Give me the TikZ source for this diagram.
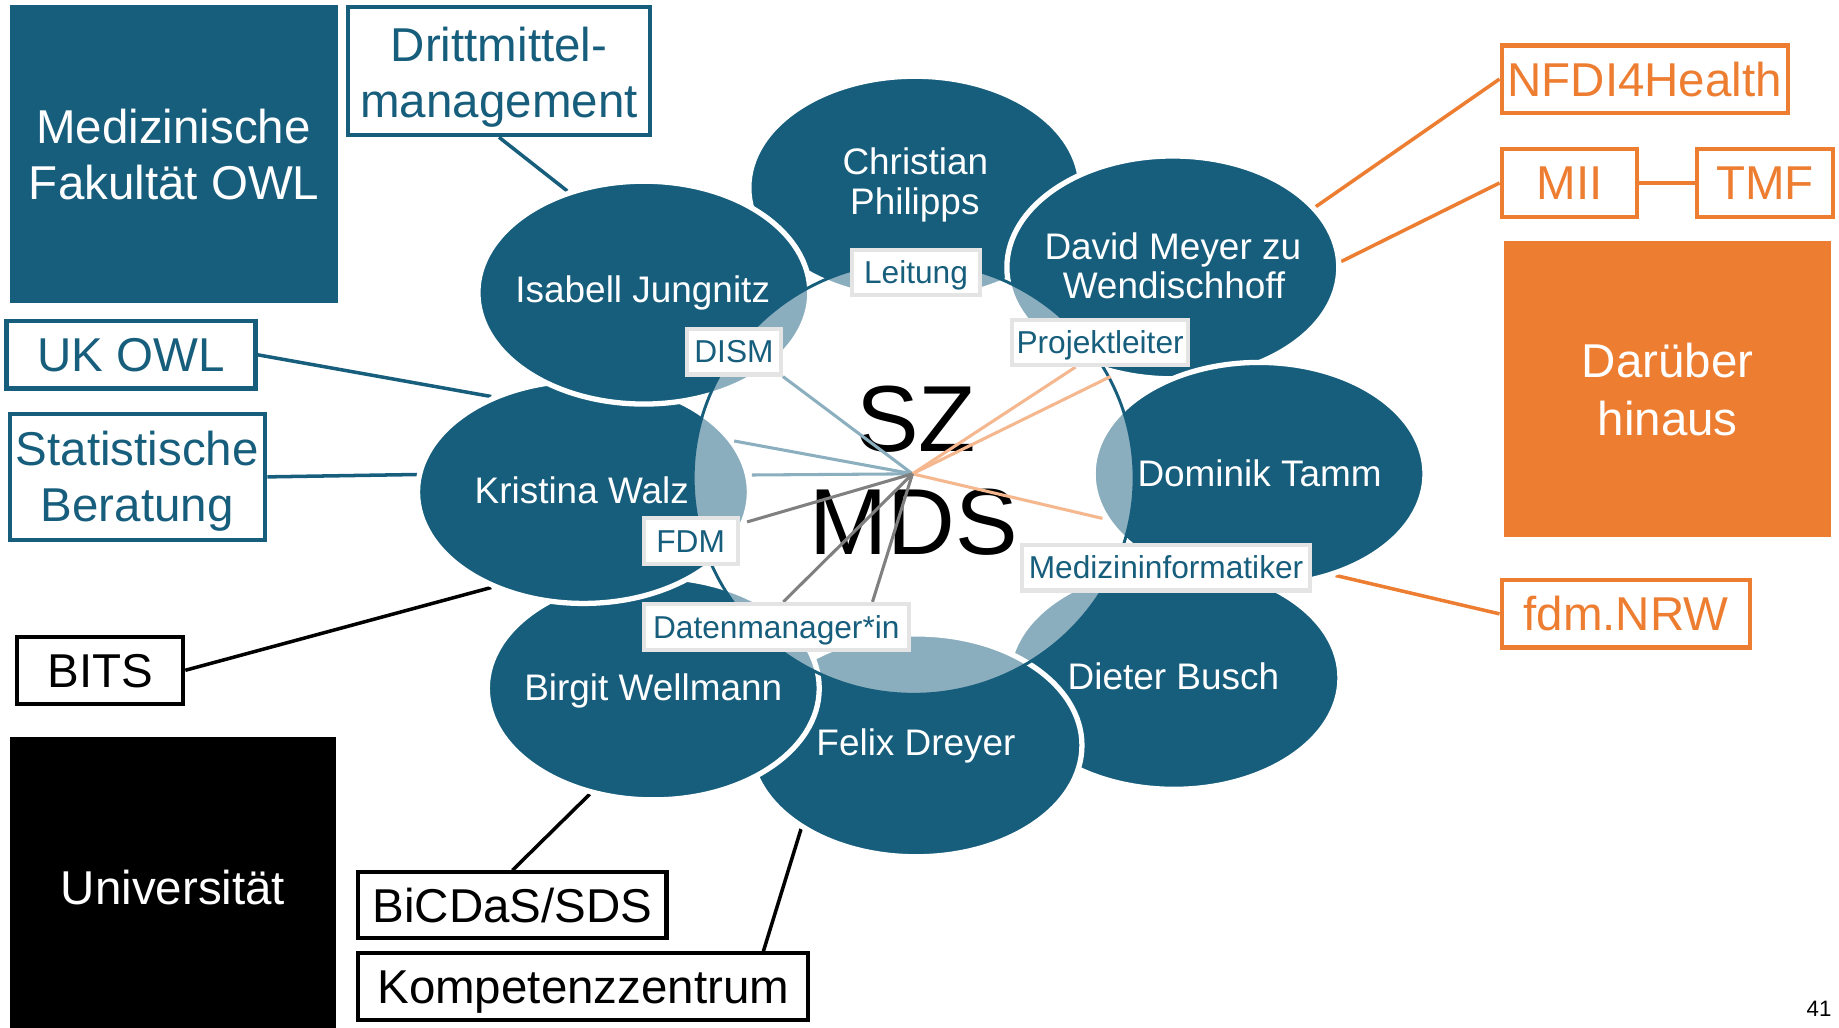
\documentclass[tikz,border=0pt]{standalone}
\usepackage{fontspec}
\setmainfont{Liberation Sans}
\usetikzlibrary{shapes.geometric}
\definecolor{tealc}{RGB}{23,94,125}
\definecolor{orangec}{RGB}{237,125,49}
\definecolor{lblue}{RGB}{139,175,191}
\definecolor{lorange}{RGB}{245,183,142}
\definecolor{lgrayb}{RGB}{228,228,228}
\definecolor{grayl}{RGB}{128,128,128}
\newcommand\myfbig{\fontsize{40.5}{48}\selectfont}
\newcommand\myfname{\fontsize{31.5}{34}\selectfont}
\newcommand\myflabel{\fontsize{27}{30}\selectfont}
\newcommand\myfcore{\fontsize{80}{90}\selectfont}
\pgfdeclarelayer{bg}
\pgfdeclarelayer{fg}
\pgfsetlayers{bg,main,fg}
\begin{document}
\begin{tikzpicture}[x=1pt,y=-1pt,
  obox/.style={draw, line width=3.5pt, fill=white, inner sep=0pt, font=\myfbig, text height=29pt, text depth=0pt},
  tbox/.style={obox, draw=tealc, text=tealc},
  kbox/.style={obox, draw=black, text=black},
  obx/.style={obox, draw=orangec, text=orangec},
  sblock/.style={inner sep=0pt, text=white, font=\myfbig, text height=29pt, text depth=0pt},
  btxt/.style={anchor=base, inner sep=0pt, font=\myfbig},
  person/.style={ellipse, fill=tealc, draw=white, line width=4.5pt, minimum width=283pt, minimum height=190pt, inner sep=0pt},
  ptxt/.style={anchor=base, inner sep=0pt, font=\myfname, text=white},
  role/.style={draw=lgrayb, line width=3.5pt, fill=white, inner sep=0pt, text=tealc, font=\myflabel, text height=19.3pt, text depth=0pt},
  conn/.style={line width=3pt},
  spoke/.style={line width=2.6pt},
]
\useasboundingbox (0,0) rectangle (1568,876);

% ---- left side boxes
\node[fill=tealc, minimum width=279.6pt, minimum height=253.7pt, inner sep=0pt] (medfak) at (148.2,131.2) {};
\node[btxt, text=white] (medfakA) at (148,122.5) {Medizinische};
\node[btxt, text=white] (medfakB) at (148.5,170.5) {Fakultät OWL};

\node[tbox, minimum width=257.5pt, minimum height=109.2pt] (drit) at (425.5,60.7) {};
\node[btxt, text=tealc] (dritA) at (425.5,52.5) {Drittmittel-};
\node[btxt, text=tealc] (dritB) at (425.5,100) {management};

\node[tbox, minimum width=212.3pt, minimum height=57.5pt] (uk) at (111.7,302.5) {UK OWL};

\node[tbox, minimum width=217.5pt, minimum height=107.2pt] (stat) at (117.5,406.6) {};
\node[btxt, text=tealc] (statA) at (117,396.5) {Statistische};
\node[btxt, text=tealc] (statB) at (117,445) {Beratung};

\node[kbox, minimum width=141.5pt, minimum height=57.5pt] (bits) at (85.5,571.5) {BITS};
\node[sblock, fill=black, minimum width=278.3pt, minimum height=255.4pt] (uni) at (147.5,756.3) {Universität};
\node[kbox, minimum width=262.8pt, minimum height=56pt] (bicdas) at (436.9,771.8) {BiCDaS/SDS};
\node[kbox, minimum width=383.7pt, minimum height=57pt] (komp) at (497.3,841.3) {Kompetenzzentrum};

% ---- right side boxes
\node[obx, minimum width=244pt, minimum height=57.3pt] (nfdi) at (1402.3,67.4) {NFDI4Health};
\node[obx, minimum width=115.8pt, minimum height=57.4pt] (mii) at (1338.2,156) {MII};
\node[obx, minimum width=116pt, minimum height=57.4pt] (tmf) at (1505,156) {TMF};
\node[fill=orangec, minimum width=279pt, minimum height=252.5pt, inner sep=0pt] (dar) at (1421.8,331.8) {};
\node[btxt, text=white] (darA) at (1422,321.6) {Darüber};
\node[btxt, text=white] (darB) at (1422,371) {hinaus};
\node[obx, minimum width=212pt, minimum height=57.3pt] (fdmnrw) at (1386.3,523.4) {fdm.NRW};

% ---- people
\node[person] (chris) at (780,160) {};
\node[person] (david) at (1000,228) {};
\node[person] (dominik) at (1073.5,404) {};
\node[person] (dieter) at (1001,578) {};
\node[person] (felix) at (781,635.5) {};
\node[person] (birgit) at (557,587) {};
\node[person] (kristina) at (497.5,419.5) {};
\node[person] (isabell) at (549,249.5) {};

\node[ptxt] (chrisA) at (780.5,148.6) {Christian};
\node[ptxt] (chrisB) at (780,182.5) {Philipps};
\node[ptxt] (isabellT) at (548,258) {Isabell Jungnitz};
\node[ptxt] (davidA) at (1000,221) {David Meyer zu};
\node[ptxt] (davidB) at (1001,254.4) {Wendischhoff};
\node[ptxt] (dominikT) at (1074,414.4) {Dominik Tamm};
\node[ptxt] (dieterT) at (1000.5,588.3) {Dieter Busch};
\node[ptxt] (felixT) at (781,644.3) {Felix Dreyer};
\node[ptxt] (birgitT) at (557,597) {Birgit Wellmann};
\node[ptxt] (kristinaT) at (496,429.7) {Kristina Walz};

% ---- core
\node[ellipse, minimum width=376pt, minimum height=369pt, inner sep=0pt, fill=white, fill opacity=0.5, draw=tealc, line width=2.5pt] (core) at (779,407.5) {};
\node[anchor=base, inner sep=0pt, font=\myfcore] (sz) at (781,385) {SZ};
\node[anchor=base, inner sep=0pt, font=\myfcore] (mds) at (779,473) {MDS};

% ---- role labels (front layer)
\begin{pgfonlayer}{fg}
\node[role, minimum width=108.5pt, minimum height=39pt] (leit) at (781,232.3) {Leitung};
\node[role, minimum width=80pt, minimum height=39pt] (dism) at (625.8,299.8) {DISM};
\node[role, minimum width=150.5pt, minimum height=38.5pt] (proj) at (938,292) {Projektleiter};
\node[role, minimum width=80pt, minimum height=39.5pt] (fdm) at (588.9,461.5) {FDM};
\node[role, minimum width=246pt, minimum height=39pt] (medinf) at (994.2,484) {Medizininformatiker};
\node[role, minimum width=226pt, minimum height=39pt] (dat) at (661.9,534.4) {Datenmanager*in};
\end{pgfonlayer}

% ---- spokes
\coordinate (hub) at (778,404);
\coordinate (b1) at (626,376);
\coordinate (b2) at (641,405);
\coordinate (o1) at (947,321);
\coordinate (o2) at (940,442);
\coordinate (g1) at (637,445);
\draw[spoke, lblue] (hub) -- (dism.south east);
\draw[spoke, lblue] (hub) -- (b1);
\draw[spoke, lblue] (hub) -- (b2);
\draw[spoke, lorange] (hub) -- ([xshift=-21pt]proj.south);
\draw[spoke, lorange] (hub) -- (o1);
\draw[spoke, lorange] (hub) -- (o2);
\draw[spoke, grayl] (hub) -- (g1);
\draw[spoke, grayl] (hub) -- ([xshift=6pt]dat.north);
\draw[spoke, grayl] (hub) -- ([xshift=82pt]dat.north);

% ---- connectors (back layer)
\begin{pgfonlayer}{bg}
\draw[conn, tealc] (drit.south) -- (isabell.127.5);
\draw[conn, tealc] (uk.east) -- (kristina.134);
\draw[conn, tealc] (stat.east) -- (kristina.174.4);
\draw[conn, black] (bits.east) -- (kristina.226.8);
\draw[conn, black] (bicdas.north) -- (birgit.239);
\draw[conn, black] ([xshift=-40pt]komp.north east) -- (felix.216);
\draw[conn, orangec] (nfdi.west) -- (david.23.5);
\draw[conn, orangec] (mii.west) -- (david.2);
\draw[conn, orangec] (mii.east) -- (tmf.west);
\draw[conn, orangec] (fdmnrw.west) -- (dominik.307.4);
\end{pgfonlayer}

\node[anchor=base, inner sep=0pt, font=\fontsize{19}{22}\selectfont] (pg) at (1551,867) {41};
\end{tikzpicture}
\end{document}
